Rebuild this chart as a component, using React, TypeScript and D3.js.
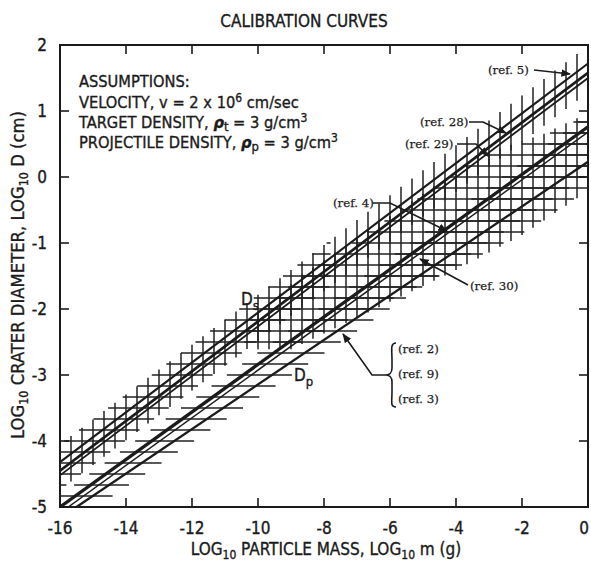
import React from "react";
import * as d3 from "d3";

const W = 591;
const H = 561;
const PLOT = { left: 60, right: 588, top: 45, bottom: 507 };

const xTicks = [-16, -14, -12, -10, -8, -6, -4, -2, 0];
const yTicks = [2, 1, 0, -1, -2, -3, -4, -5];

type Pt = [number, number];

// Calibration lines, endpoints as [log10 m, log10 D]
const dsRef5: Pt[] = [[-16, -4.32], [0, 1.72]];
const dsRef28: Pt[] = [[-16, -4.45], [0, 1.58]];
const dsRef29: Pt[] = [[-16, -4.52], [0, 1.5]];
const dpRef4: Pt[] = [[-16, -5.0], [0, 0.76]];
const dpRef30: Pt[] = [[-15.75, -5.0], [0, 0.68]];
const dpRef2: Pt[] = [[-15.5, -5.0], [0, 0.23]];

// Scatter band widths (log units)
const dsBandAbove = 0.27;
const dsBandBelow = 0.22;
const dsCrossLimit = -7.8; // D_s band carries cross-hatching below this mass
const dpBandLeft = 0.5;
const dpBandRight = 0.6;

// Overlap zone between the two bands, cross-hatched
const overlapZone: Pt[] = [
  [-10.3, -2.25], [-8.7, -1.55], [-5.1, -0.35], [-3.3, 0.27], [-1.4, 0.58], [0.3, 0.98],
  [0.3, -0.05], [-2.0, -0.82], [-4.0, -1.35], [-7.2, -2.12], [-9.0, -2.55], [-10.3, -2.55],
];

const HATCH_DX = 1 / 3;
const HATCH_DY = 1 / 6;

const x = d3.scaleLinear().domain([-16, 0]).range([PLOT.left, PLOT.right]);
const y = d3.scaleLinear().domain([-5, 2]).range([PLOT.bottom, PLOT.top]);

function at(l: Pt[], xv: number) {
  const [[x0, y0], [x1, y1]] = l;
  return y0 + ((y1 - y0) * (xv - x0)) / (x1 - x0);
}
function inv(l: Pt[], yv: number) {
  const [[x0, y0], [x1, y1]] = l;
  return x0 + ((x1 - x0) * (yv - y0)) / (y1 - y0);
}

function spans(poly: Pt[], vertical: boolean, v: number): [number, number][] {
  const hits: number[] = [];
  for (let i = 0; i < poly.length; i++) {
    const a = poly[i];
    const b = poly[(i + 1) % poly.length];
    const pa = vertical ? a[0] : a[1];
    const pb = vertical ? b[0] : b[1];
    const qa = vertical ? a[1] : a[0];
    const qb = vertical ? b[1] : b[0];
    if ((pa <= v && pb > v) || (pb <= v && pa > v)) {
      hits.push(qa + ((qb - qa) * (v - pa)) / (pb - pa));
    }
  }
  hits.sort((m, n) => m - n);
  const out: [number, number][] = [];
  for (let i = 0; i + 1 < hits.length; i += 2) out.push([hits[i], hits[i + 1]]);
  return out;
}

type Seg = { x1: number; y1: number; x2: number; y2: number };

function buildHatch(): Seg[] {
  const segs: Seg[] = [];
  const xs = d3.range(0, 49).map((k) => -16 + k * HATCH_DX);
  const ys = d3.range(0, 43).map((k) => -5 + k * HATCH_DY);
  const ext = 4;

  // D_s band: vertical bars along the whole length
  xs.forEach((xv) => {
    const lo = at(dsRef29, xv) - dsBandBelow;
    const hi = at(dsRef5, xv) + dsBandAbove;
    segs.push({ x1: x(xv), y1: y(lo), x2: x(xv), y2: y(hi) });
  });
  // D_s band: horizontal bars in the small-mass part
  ys.forEach((yv) => {
    const l = inv(dsRef5, yv - dsBandAbove);
    const r = inv(dsRef29, yv + dsBandBelow);
    const rr = Math.min(r, dsCrossLimit);
    if (rr > l) segs.push({ x1: x(l), y1: y(yv), x2: x(rr), y2: y(yv) });
  });
  // D_p band: horizontal bars
  ys.forEach((yv) => {
    const l = inv(dpRef4, yv) - dpBandLeft;
    const r = inv(dpRef2, yv) + dpBandRight;
    segs.push({ x1: x(l), y1: y(yv), x2: x(r), y2: y(yv) });
  });
  // Overlap zone: full grid
  xs.forEach((xv) => {
    spans(overlapZone, true, xv).forEach(([a, b]) =>
      segs.push({ x1: x(xv), y1: y(a) + ext, x2: x(xv), y2: y(b) - ext })
    );
  });
  ys.forEach((yv) => {
    spans(overlapZone, false, yv).forEach(([a, b]) =>
      segs.push({ x1: x(a) - ext, y1: y(yv), x2: x(b) + ext, y2: y(yv) })
    );
  });
  return segs;
}

const SANS = "'Liberation Sans Narrow', 'DejaVu Sans Condensed', 'Roboto Condensed', 'Liberation Sans', sans-serif";
const SERIF = "'DejaVu Serif', 'Liberation Serif', serif";
const INK = "#1b1b1b";
const BOLDEN = { stroke: INK, strokeWidth: 0.35 };

function Callout({ label, tx, ty, path }: { label: string; tx: number; ty: number; path: string }) {
  return (
    <g>
      <text x={tx} y={ty} fontFamily={SERIF} fontSize={11.8} fill={INK} stroke={INK} strokeWidth={0.25}>
        {label}
      </text>
      <path d={path} fill="none" stroke={INK} strokeWidth={1.6} markerEnd="url(#arrow)" />
    </g>
  );
}

export default function App() {
  const segs = buildHatch();
  const line = (l: Pt[]) => `M${x(l[0][0])},${y(l[0][1])}L${x(l[1][0])},${y(l[1][1])}`;

  return (
    <svg width={W} height={H} style={{ position: "absolute", left: 0, top: 0, background: "#fff" }}>
      <defs>
        <clipPath id="plot">
          <rect x={PLOT.left} y={PLOT.top} width={PLOT.right - PLOT.left} height={PLOT.bottom - PLOT.top} />
        </clipPath>
        <marker id="arrow" viewBox="0 0 10 10" refX="9" refY="5" markerWidth="6" markerHeight="6" orient="auto">
          <path d="M0,1L10,5L0,9z" fill={INK} />
        </marker>
      </defs>

      <text x={304} y={27} textAnchor="middle" fontFamily={SANS} fontSize={17} fill={INK} {...BOLDEN}>
        CALIBRATION CURVES
      </text>

      <g clipPath="url(#plot)">
        {segs.map((s, i) => (
          <line key={i} {...s} stroke="#222" strokeWidth={1.5} />
        ))}
        <path d={line(dsRef5)} stroke={INK} strokeWidth={2.1} fill="none" />
        <path d={line(dsRef28)} stroke={INK} strokeWidth={2.7} fill="none" />
        <path d={line(dsRef29)} stroke={INK} strokeWidth={1.8} fill="none" />
        <path d={line(dpRef4)} stroke={INK} strokeWidth={3.3} fill="none" />
        <path d={line(dpRef30)} stroke={INK} strokeWidth={1.5} fill="none" />
        <path d={line(dpRef2)} stroke={INK} strokeWidth={2.3} fill="none" />
      </g>

      <rect x={PLOT.left} y={PLOT.top} width={PLOT.right - PLOT.left} height={PLOT.bottom - PLOT.top}
        fill="none" stroke={INK} strokeWidth={2} />

      {xTicks.map((t) => (
        <g key={"x" + t}>
          <line x1={x(t)} x2={x(t)} y1={PLOT.bottom} y2={PLOT.bottom - 9} stroke={INK} strokeWidth={1.6} />
          <line x1={x(t)} x2={x(t)} y1={PLOT.top} y2={PLOT.top + 9} stroke={INK} strokeWidth={1.6} />
          <text x={t === 0 ? x(t) - 4 : x(t)} y={534} textAnchor="middle" fontFamily={SANS} fontSize={17} fill={INK} {...BOLDEN}>
            {t}
          </text>
        </g>
      ))}
      {yTicks.map((t) => (
        <g key={"y" + t}>
          <line x1={PLOT.left} x2={PLOT.left + 9} y1={y(t)} y2={y(t)} stroke={INK} strokeWidth={1.6} />
          <line x1={PLOT.right} x2={PLOT.right - 9} y1={y(t)} y2={y(t)} stroke={INK} strokeWidth={1.6} />
          <text x={47} y={y(t) + 6} textAnchor="end" fontFamily={SANS} fontSize={17} fill={INK} {...BOLDEN}>
            {t}
          </text>
        </g>
      ))}

      <text x={326} y={555} textAnchor="middle" fontFamily={SANS} fontSize={17} fill={INK} {...BOLDEN}>
        LOG<tspan fontSize={12} dy={4}>10</tspan><tspan dy={-4}> PARTICLE MASS, LOG</tspan>
        <tspan fontSize={12} dy={4}>10</tspan><tspan dy={-4}> m (g)</tspan>
      </text>
      <text transform="translate(24,275) rotate(-90)" textAnchor="middle" fontFamily={SANS} fontSize={18.3} fill={INK} {...BOLDEN}>
        LOG<tspan fontSize={12.5} dy={4}>10</tspan><tspan dy={-4}> CRATER DIAMETER, LOG</tspan>
        <tspan fontSize={12.5} dy={4}>10</tspan><tspan dy={-4}> D (cm)</tspan>
      </text>

      <g fontFamily={SANS} fontSize={16.3} fill={INK} {...BOLDEN}>
        <text x={79} y={87}>ASSUMPTIONS:</text>
        <text x={79} y={108}>
          VELOCITY, v = 2 x 10<tspan fontSize={12} dy={-6}>6</tspan><tspan dy={6}> cm/sec</tspan>
        </text>
        <text x={79} y={128}>
          TARGET DENSITY, <tspan fontStyle="italic" fontWeight="bold">ρ</tspan>
          <tspan fontSize={13} dy={3}>t</tspan><tspan dy={-3}> = 3 g/cm</tspan>
          <tspan fontSize={12} dy={-6}>3</tspan>
        </text>
        <text x={79} y={148}>
          PROJECTILE DENSITY, <tspan fontStyle="italic" fontWeight="bold">ρ</tspan>
          <tspan fontSize={13} dy={3}>p</tspan><tspan dy={-3}> = 3 g/cm</tspan>
          <tspan fontSize={12} dy={-6}>3</tspan>
        </text>
      </g>

      <text x={241} y={305} fontFamily={SANS} fontSize={17} fill={INK} {...BOLDEN}>
        D<tspan fontSize={13} dy={5}>s</tspan>
      </text>
      <text x={294} y={381} fontFamily={SANS} fontSize={17} fill={INK} {...BOLDEN}>
        D<tspan fontSize={13} dy={5}>p</tspan>
      </text>

      <Callout label="(ref. 5)" tx={488} ty={74} path="M534,70L570,74" />
      <Callout label="(ref. 28)" tx={420} ty={126} path="M469,122L483,122L506,133" />
      <Callout label="(ref. 29)" tx={405} ty={148} path="M457,144L476,144L488,156" />
      <Callout label="(ref. 4)" tx={333} ty={207} path="M373,203L390,203L447,231" />
      <Callout label="(ref. 30)" tx={470} ty={290} path="M468,285L420,259" />

      <g fontFamily={SERIF} fontSize={11.8} fill={INK} stroke={INK} strokeWidth={0.25}>
        <text x={398} y={353}>(ref. 2)</text>
        <text x={398} y={378}>(ref. 9)</text>
        <text x={398} y={403}>(ref. 3)</text>
      </g>
      <path d="M396,343 C390,343 392,350 392,360 L392,368 C392,373 389,375 386,375 C389,375 392,377 392,382 L392,392 C392,402 390,407 396,407"
        fill="none" stroke={INK} strokeWidth={1.6} />
      <path d="M386,375L372,375L343,334" fill="none" stroke={INK} strokeWidth={1.6} markerEnd="url(#arrow)" />
    </svg>
  );
}
